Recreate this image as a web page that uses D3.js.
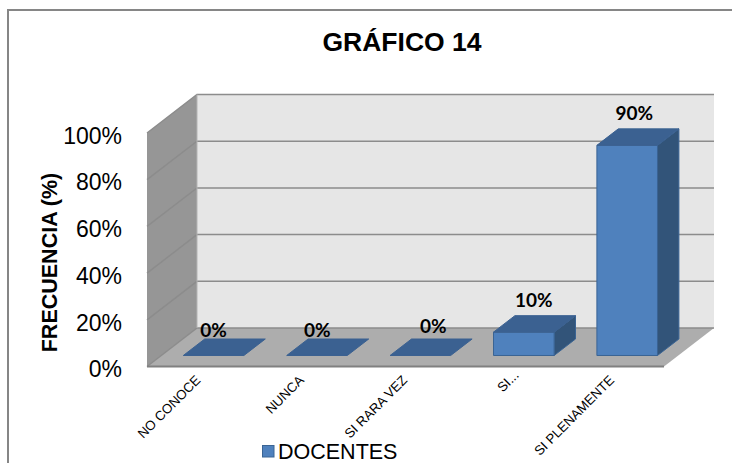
<!DOCTYPE html>
<html>
<head>
<meta charset="utf-8">
<script src="https://d3js.org/d3.v7.min.js"></script>
<style>
  html, body { margin: 0; padding: 0; background: #fff; }
  svg { display: block; }
  text { font-family: "Liberation Sans", Arial, sans-serif; fill: #000; }
  .lbl { font-family: Lato, Carlito, sans-serif; font-weight: 700; font-size: 19px; }
</style>
</head>
<body>
<svg id="chart"></svg>
<script>
// values
const categories = ["NO CONOCE", "NUNCA", "SI RARA VEZ", "SI...", "SI PLENAMENTE"];
const docentes = [0, 0, 0, 10, 90];
const ticks = [0, 20, 40, 60, 80, 100];
const seriesName = "DOCENTES";

// hand placed labels in the original, offsets from the default spot
const labelNudgeX = [0, 0.3, 13, 10, 7];
const labelNudgeY = [-2, -2, -6, -9, -9];
const catNudgeX = [0, 0, 0, 8, 0];
const catNudgeY = [0, 0, 0, -5, 0];

const w = 732;
const h = 463;
const svg = d3.select("#chart").attr("width", w).attr("height", h);

// chart frame, only top and left are inside the crop
svg.append("path")
  .attr("d", "M8,463V10H732")
  .attr("fill", "none")
  .attr("stroke", "#868686")
  .attr("stroke-width", 2);

const x0 = 147;
const x1 = 664;
const x = d3.scaleBand().domain(categories).range([x0 + 0.6, x1 + 0.6]).paddingInner(0.414).paddingOuter(0.207);
const y = d3.scaleLinear().domain([0, 100]).range([366.5, 133]);

// fake 3d: depth 0 is the front of the floor, 1 the back wall
const depthX = 50;
const depthY = -38.5;
const px = (xv, d) => xv + d * depthX;
const py = (yv, d) => yv + d * depthY;
const poly = (pts) => "M" + pts.map((p) => `${px(p[0], p[2])},${py(p[1], p[2])}`).join("L") + "Z";

const yb = y(0);
const yt = y(100);

// back wall
svg.append("path").attr("d", poly([[x0, yb, 1], [x1, yb, 1], [x1, yt, 1], [x0, yt, 1]])).attr("fill", "#e6e6e6");
// side wall
svg.append("path").attr("d", poly([[x0, yb, 0], [x0, yb, 1], [x0, yt, 1], [x0, yt, 0]])).attr("fill", "#969696");
// floor
svg.append("path").attr("d", poly([[x0, yb, 0], [x1, yb, 0], [x1, yb, 1], [x0, yb, 1]])).attr("fill", "#adadad");

// gridlines running across side wall and back wall
svg.append("g")
  .selectAll("path")
  .data(ticks)
  .join("path")
  .attr("d", (d) => `M${px(x0, 0)},${py(y(d), 0)}L${px(x0, 1)},${py(y(d), 1)}L${px(x1, 1)},${py(y(d), 1)}`)
  .attr("fill", "none")
  .attr("stroke", "#8c8c8c")
  .attr("stroke-width", 1.5);
svg.append("path")
  .attr("d", `M${px(x0, 1)},${py(yb, 1)}V${py(yt, 1)}`)
  .attr("stroke", "#b4b4b4")
  .attr("stroke-width", 1);
svg.append("path")
  .attr("d", `M${px(x0, 0)},${py(yb, 0)}H${px(x1, 0)}`)
  .attr("stroke", "#808080")
  .attr("stroke-width", 2);

// value axis labels
svg.append("g")
  .selectAll("text")
  .data(ticks)
  .join("text")
  .attr("x", 122)
  .attr("y", (d) => y(d) + 2.5)
  .attr("dy", "0.36em")
  .attr("text-anchor", "end")
  .attr("font-size", 23)
  .text((d) => d + "%");

// bars, front at d0 and back at d1
const d0 = 0.286;
const d1 = 0.714;
const bars = svg.append("g").selectAll("g").data(categories).join("g");
bars.each(function (c, i) {
  const v = docentes[i];
  const l = x(c);
  const r = l + x.bandwidth();
  const t = y(v);
  const g = d3.select(this);
  if (v > 0) {
    g.append("path").attr("d", poly([[r, yb, d0], [r, yb, d1], [r, t, d1], [r, t, d0]]))
      .attr("fill", "#325479").attr("stroke", "#3a6494");
    g.append("path").attr("d", poly([[l, yb, d0], [r, yb, d0], [r, t, d0], [l, t, d0]]))
      .attr("fill", "#4f81bd").attr("stroke", "#3a6494");
  }
  g.append("path").attr("d", poly([[l, t, d0], [r, t, d0], [r, t, d1], [l, t, d1]]))
    .attr("fill", "#3b6191").attr("stroke", "#3b6191");
});

// data labels
svg.append("g")
  .selectAll("text")
  .data(categories)
  .join("text")
  .attr("class", "lbl")
  .attr("x", (c, i) => px(x(c) + x.bandwidth() / 2, d0) + labelNudgeX[i])
  .attr("y", (c, i) => py(y(docentes[i]), d1) + labelNudgeY[i])
  .attr("text-anchor", "middle")
  .text((c, i) => docentes[i] + "%");

// category labels, rotated
svg.append("g")
  .selectAll("text")
  .data(categories)
  .join("text")
  .attr("transform", (c, i) => `translate(${x(c) + x.bandwidth() / 2 + 2 + catNudgeX[i]},${381 + catNudgeY[i]}) rotate(-45)`)
  .attr("text-anchor", "end")
  .attr("font-size", 13.3)
  .text((c) => c);

// titles
svg.append("text")
  .attr("x", 402)
  .attr("y", 51)
  .attr("text-anchor", "middle")
  .attr("font-size", 26.5)
  .attr("font-weight", 700)
  .text("GRÁFICO 14");
svg.append("text")
  .attr("transform", "translate(57,262.5) rotate(-90)")
  .attr("text-anchor", "middle")
  .attr("font-size", 21.5)
  .attr("font-weight", 700)
  .text("FRECUENCIA (%)");

// legend
svg.append("rect").attr("x", 262.5).attr("y", 445.5).attr("width", 11.5).attr("height", 11.5)
  .attr("fill", "#4f81bd").attr("stroke", "#3a6494");
svg.append("text").attr("x", 278).attr("y", 458.5).attr("font-size", 21.5).text(seriesName);
</script>
</body>
</html>
